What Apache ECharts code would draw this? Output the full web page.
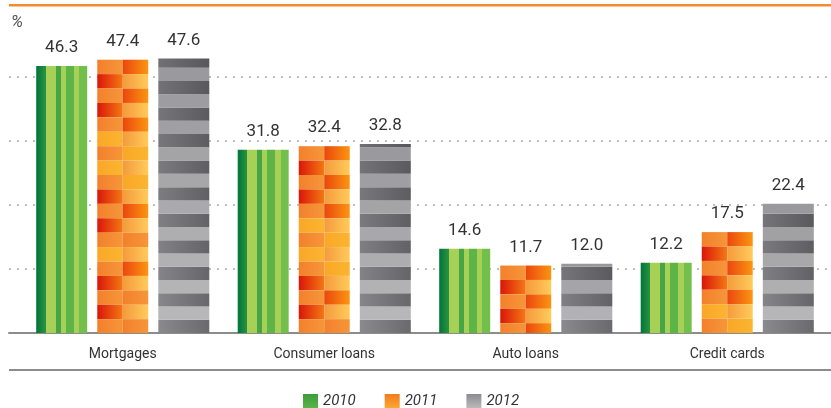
<!DOCTYPE html>
<html>
<head>
<meta charset="utf-8">
<script src="https://cdn.jsdelivr.net/npm/echarts@6/dist/echarts.min.js"></script>
<style>
  html, body { margin: 0; padding: 0; background: #fff; }
  #chart { width: 831px; height: 408px; }
</style>
</head>
<body>
<div id="chart"></div>
<script>
// data
var categories = ['Mortgages', 'Consumer loans', 'Auto loans', 'Credit cards'];
var years = ['2010', '2011', '2012'];
var values2010 = [46.3, 31.8, 14.6, 12.2];
var values2011 = [47.4, 32.4, 11.7, 17.5];
var values2012 = [47.6, 32.8, 12.0, 22.4];
var yMax = 55.5, yStep = 11.1;

// cell styles of the orange bars (row by row, from the top)
var leftCells  = ['o','r','o','r','o','y','o','y','o','r','o','r','o','y','o','r','o','r','o','r'];
var rightCells = ['d','l','d','l','d','l','y','l','y','l','d','l','o','l','d','l','o','l','o','l'];
var cellColors = {
    o: ['#f3802b', '#f69639'],
    r: ['#da1608', '#f47814'],
    y: ['#f9a726', '#fbb531'],
    d: ['#ea470e', '#fb9510'],
    l: ['#f59a3c', '#ffcb5a']
};

function hGrad(c1, c2) {
    return new echarts.graphic.LinearGradient(0, 0, 1, 0, [
        {offset: 0, color: c1}, {offset: 1, color: c2}
    ]);
}
function vGrad(c1, c2) {
    return new echarts.graphic.LinearGradient(0, 0, 0, 1, [
        {offset: 0, color: c1}, {offset: 1, color: c2}
    ]);
}
function mix(a, b, t) {
    var pa = parseInt(a.slice(1), 16), pb = parseInt(b.slice(1), 16);
    var out = '#';
    for (var s = 16; s >= 0; s -= 8) {
        var ca = (pa >> s) & 255, cb = (pb >> s) & 255;
        var v = Math.round(ca + (cb - ca) * t);
        out += (v < 16 ? '0' : '') + v.toString(16);
    }
    return out;
}

var greenFill = new echarts.graphic.LinearGradient(0, 0, 1, 0, [
    {offset: 0, color: '#00743a'}, {offset: 0.19, color: '#2a9441'},
    {offset: 0.19, color: '#a6d156'}, {offset: 0.38, color: '#a6d156'},
    {offset: 0.38, color: '#48a545'}, {offset: 0.48, color: '#48a545'},
    {offset: 0.48, color: '#a6d156'}, {offset: 0.58, color: '#a6d156'},
    {offset: 0.58, color: '#5db548'}, {offset: 0.74, color: '#5db548'},
    {offset: 0.74, color: '#a6d156'}, {offset: 0.84, color: '#a6d156'},
    {offset: 0.84, color: '#72c04b'}, {offset: 1, color: '#72c04b'}
]);

function greenBar(x, y, w, h) {
    return [{type: 'rect', shape: {x: x, y: y, width: w, height: h}, style: {fill: greenFill}}];
}

function orangeBar(x, y, w, h, rowH) {
    var out = [];
    var half = w / 2;
    for (var i = 0; i * rowH < h; i++) {
        var cy = y + i * rowH;
        var ch = Math.min(rowH, y + h - cy);
        var lc = cellColors[leftCells[i % leftCells.length]];
        var rc = cellColors[rightCells[i % rightCells.length]];
        out.push({type: 'rect', shape: {x: x, y: cy, width: half, height: ch}, style: {fill: hGrad(lc[0], lc[1])}});
        out.push({type: 'rect', shape: {x: x + half, y: cy, width: w - half, height: ch}, style: {fill: hGrad(rc[0], rc[1])}});
    }
    return out;
}

function grayBar(x, y, w, h, bandH) {
    var out = [];
    var bottom = y + h;
    for (var k = 0; k * bandH < h; k++) {
        var by1 = bottom - k * bandH;
        var by0 = Math.max(y, by1 - bandH);
        var t = Math.min(1, (k * bandH) / h);
        var fill;
        if (k % 2 === 0) {
            fill = hGrad(mix('#8a8a8e', '#707074', t), mix('#6a6a6e', '#57575b', t));
        } else {
            fill = mix('#b9b9bc', '#97979b', t);
        }
        out.push({type: 'rect', shape: {x: x, y: by0, width: w, height: by1 - by0}, style: {fill: fill}});
    }
    return out;
}

function renderBar(params, api) {
    var cat = api.value(0), val = api.value(1);
    var base = api.coord([cat, 0]);
    var top = api.coord([cat, val]);
    var catW = api.size([1, 0])[0];
    var bw = catW * 0.253;
    var cx = base[0] + (params.seriesIndex - 1) * catW * 0.303;
    var x0 = cx - bw / 2;
    var h = base[1] - top[1];
    var kids;
    if (params.seriesIndex === 0) {
        kids = greenBar(x0, top[1], bw, h);
    } else if (params.seriesIndex === 1) {
        kids = orangeBar(x0, top[1], bw, h, api.size([0, 2.5])[1]);
    } else {
        kids = grayBar(x0, top[1], bw, h, api.size([0, 2.3])[1]);
    }
    kids.push({
        type: 'text',
        style: {
            text: val.toFixed(1), x: cx, y: top[1] - 18,
            align: 'center', verticalAlign: 'middle',
            font: '17px Roboto', fill: '#333'
        }
    });
    return {type: 'group', children: kids};
}

function pairs(arr) {
    return arr.map(function (v, i) { return [i, v]; });
}

var chart = echarts.init(document.getElementById('chart'));
var option = {
    animation: false,
    grid: [
        {left: 22, right: 3, top: 13, bottom: 75},
        {left: 9, right: 0, top: 13, bottom: 75}
    ],
    legend: {
        data: years,
        left: 298,
        top: 389,
        icon: 'rect',
        itemWidth: 15,
        itemHeight: 15,
        itemGap: 29,
        textStyle: {fontFamily: 'Roboto', fontStyle: 'italic', fontSize: 15, color: '#333'}
    },
    xAxis: [
        {
            type: 'category', gridIndex: 0, data: categories,
            axisLine: {show: false}, axisTick: {show: false},
            axisLabel: {fontFamily: 'Roboto', fontSize: 14, color: '#333', margin: 14}
        },
        {
            type: 'value', gridIndex: 1, min: 0, max: 1,
            axisLine: {show: true, lineStyle: {color: '#8c8c8c', width: 2}},
            axisTick: {show: false}, axisLabel: {show: false}, splitLine: {show: false}
        }
    ],
    yAxis: [
        {type: 'value', gridIndex: 0, min: 0, max: yMax, interval: yStep, show: false},
        {
            type: 'value', gridIndex: 1, min: 0, max: yMax, interval: yStep,
            name: '%', nameLocation: 'end', nameGap: -18,
            nameTextStyle: {
                fontFamily: 'Roboto', fontSize: 17, fontStyle: 'italic',
                color: '#555', align: 'left', padding: [0, 0, 0, 2]
            },
            axisLine: {show: false}, axisTick: {show: false}, axisLabel: {show: false},
            splitLine: {
                show: true, showMinLine: false, showMaxLine: false,
                lineStyle: {color: '#bdbdbd', width: 2, type: [2, 6]}
            }
        }
    ],
    series: [
        {name: years[0], type: 'custom', renderItem: renderBar, data: pairs(values2010),
         encode: {x: 0, y: 1}, itemStyle: {color: vGrad('#3a9c3a', '#5cb648')}},
        {name: years[1], type: 'custom', renderItem: renderBar, data: pairs(values2011),
         encode: {x: 0, y: 1}, itemStyle: {color: vGrad('#f37a20', '#fbab30')}},
        {name: years[2], type: 'custom', renderItem: renderBar, data: pairs(values2012),
         encode: {x: 0, y: 1}, itemStyle: {color: vGrad('#8c8c90', '#bdbdc0')}}
    ],
    graphic: [
        {type: 'rect', left: 9, top: 4, shape: {width: 822, height: 2.5}, style: {fill: '#f48b2e'}},
        {type: 'rect', left: 9, top: 369, shape: {width: 822, height: 2}, style: {fill: '#8c8c8c'}}
    ]
};
chart.setOption(option);
</script>
</body>
</html>
